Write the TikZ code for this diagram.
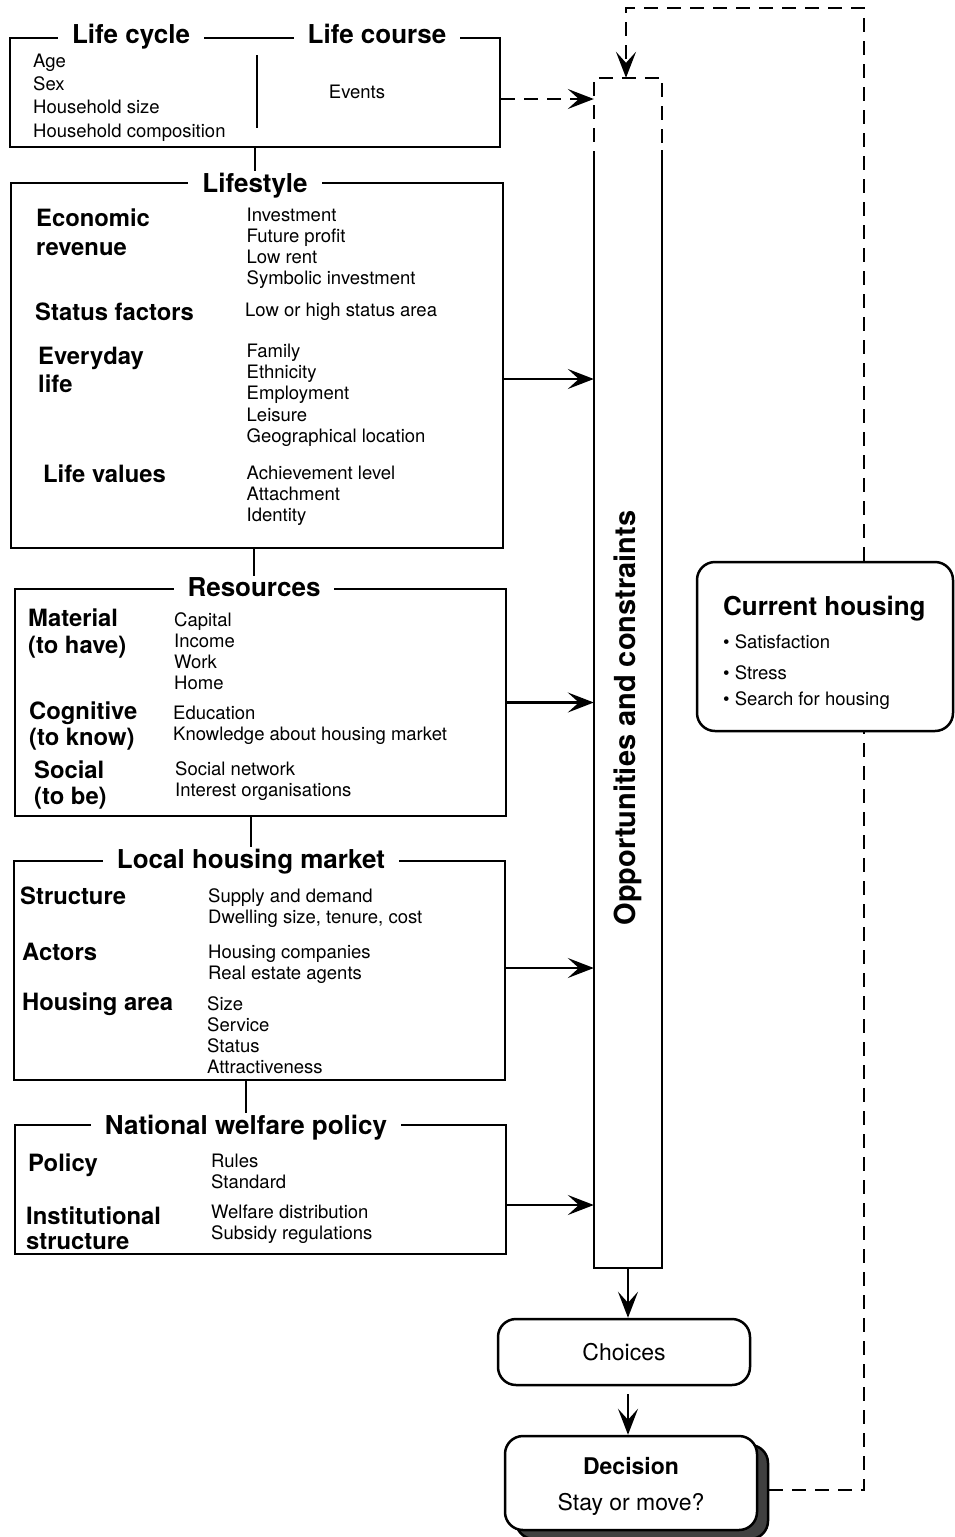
\documentclass[tikz,border=0pt]{standalone}
\usepackage{fontspec}
\setmainfont{TeX Gyre Heros}
\usepackage{tikz}
\usetikzlibrary{arrows.meta, positioning, calc}

\newcommand{\titlefont}{\fontsize{26}{30}\selectfont\bfseries}
\newcommand{\lblfont}{\fontsize{23.8}{28}\selectfont\bfseries}
\newcommand{\itmfont}{\fontsize{18.5}{21.5}\selectfont}
\newcommand{\boxtextfont}{\fontsize{23}{28}\selectfont}

\begin{document}
\begin{tikzpicture}[x=1pt, y=-1pt,
  box/.style={draw, line width=2.5pt, inner sep=0pt},
  rbox/.style={draw, line width=2.5pt, inner sep=0pt, rounded corners=18pt},
  title/.style={font=\titlefont, fill=white, inner xsep=14pt, inner ysep=1pt, anchor=base},
  lbl/.style={font=\lblfont, inner sep=0pt, anchor=base west},
  itm/.style={font=\itmfont, inner sep=0pt, anchor=base west},
  conn/.style={line width=2.5pt},
  arr/.style={-{Stealth[length=26pt, width=20pt, inset=11pt]}, line width=2.3pt},
  dashline/.style={line width=2.5pt, dash pattern=on 14pt off 9pt}]
\useasboundingbox (0,0) rectangle (954,1537);

% Life cycle / Life course
\node[box, minimum width=490pt, minimum height=109pt] (lifecycle) at (255,92.5) {};
\node[title] (lctitle) at (131,43) {Life cycle};
\node[title] (lcotitle) at (377,43) {Life course};
\draw[conn] (257,55) -- (257,128);
\foreach \t [count=\i from 0] in {Age, Sex, Household size, Household composition}
  \node[itm] (lc\i) at (33, 67+23.4*\i) {\t};
\node[itm, anchor=base] (events) at (357,98) {Events};

% Lifestyle
\node[box, minimum width=492pt, minimum height=365pt] (lifestyle) at (257,365.5) {};
\node[title] (lstitle) at (255,192) {Lifestyle};
\foreach \t/\x/\y [count=\i] in {Economic/36/226.5, revenue/36/255, Status factors/35/320.5, Everyday/38/364, life/38/392, Life values/43/482.5}
  \node[lbl] (lsl\i) at (\x,\y) {\t};
\foreach \t [count=\i from 0] in {Investment, Future profit, Low rent, Symbolic investment}
  \node[itm] (lsa\i) at (246.5, 221+21.3*\i) {\t};
\node[itm] (lsb0) at (245,316.5) {Low or high status area};
\foreach \t [count=\i from 0] in {Family, Ethnicity, Employment, Leisure, Geographical location}
  \node[itm] (lsc\i) at (246.5, 357.3+21.3*\i) {\t};
\foreach \t [count=\i from 0] in {Achievement level, Attachment, Identity}
  \node[itm] (lsd\i) at (246.5, 479.3+21.3*\i) {\t};

% Resources
\node[box, minimum width=491pt, minimum height=227pt] (resources) at (260.5,702.5) {};
\node[title] (restitle) at (254,596) {Resources};
\foreach \t/\x/\y [count=\i] in {Material/28/626.5, (to have)/28/653.5, Cognitive/29/719.5, (to know)/29/745.5, Social/34/778.5, (to be)/34/804.5}
  \node[lbl] (resl\i) at (\x,\y) {\t};
\foreach \t [count=\i from 0] in {Capital, Income, Work, Home}
  \node[itm] (resa\i) at (174, 626+21.3*\i) {\t};
\foreach \t [count=\i from 0] in {Education, Knowledge about housing market}
  \node[itm] (resb\i) at (173, 719+21.3*\i) {\t};
\foreach \t [count=\i from 0] in {Social network, Interest organisations}
  \node[itm] (resc\i) at (175, 775+21.3*\i) {\t};

% Local housing market
\node[box, minimum width=491pt, minimum height=219pt] (market) at (259.5,970.5) {};
\node[title] (mkttitle) at (251,868) {Local housing market};
\foreach \t/\x/\y [count=\i] in {Structure/20/904.5, Actors/22/960.5, Housing area/22/1010.5}
  \node[lbl] (mktl\i) at (\x,\y) {\t};
\foreach \t [count=\i from 0] in {Supply and demand, {Dwelling size, tenure, cost}}
  \node[itm] (mkta\i) at (208, 902+21.3*\i) {\t};
\foreach \t [count=\i from 0] in {Housing companies, Real estate agents}
  \node[itm] (mktb\i) at (208, 958+21.3*\i) {\t};
\foreach \t [count=\i from 0] in {Size, Service, Status, Attractiveness}
  \node[itm] (mktc\i) at (207, 1010+21.3*\i) {\t};

% National welfare policy
\node[box, minimum width=491pt, minimum height=129pt] (welfare) at (260.5,1189.5) {};
\node[title] (wftitle) at (246,1134) {National welfare policy};
\foreach \t/\x/\y [count=\i] in {Policy/28/1171.5, Institutional/26/1224.5, structure/26/1249}
  \node[lbl] (wfl\i) at (\x,\y) {\t};
\foreach \t [count=\i from 0] in {Rules, Standard}
  \node[itm] (wfa\i) at (211, 1167+21.3*\i) {\t};
\foreach \t [count=\i from 0] in {Welfare distribution, Subsidy regulations}
  \node[itm] (wfb\i) at (211, 1218+21.3*\i) {\t};

% Links between the boxes
\draw[conn] (lifecycle.south -| lstitle.north) -- (lstitle.north);
\draw[conn] (lifestyle.south -| restitle.north) -- (restitle.north);
\draw[conn] (resources.south -| mkttitle.north) -- (mkttitle.north);
\draw[conn] (market.south -| wftitle.north) -- (wftitle.north);

% Opportunities and constraints column
\node[minimum width=68pt, minimum height=1190pt, inner sep=0pt] (opp) at (628,673) {};
\draw[dashline] ($(opp.north west)+(0,87)$) -- (opp.north west) -- (opp.north east) -- ($(opp.north east)+(0,72)$);
\draw[conn] ($(opp.north west)+(0,87)$) -- (opp.south west) -- (opp.south east) -- ($(opp.north east)+(0,72)$);
\node[rotate=90, font=\fontsize{29}{32}\selectfont\bfseries, inner sep=0pt] (opptext) at (628,718) {Opportunities and constraints};

% Arrows into the column
\draw[dashline, arr] ([yshift=-6.5pt]lifecycle.east) -- ([yshift=-6.5pt]lifecycle.east -| opp.west);
\draw[arr] ([yshift=-13.5pt]lifestyle.east) -- ([yshift=-13.5pt]lifestyle.east -| opp.west);
\draw[arr] (resources.east) -- (resources.east -| opp.west);
\draw[arr] ([yshift=2.5pt]market.east) -- ([yshift=2.5pt]market.east -| opp.west);
\draw[arr] ([yshift=-15.5pt]welfare.east) -- ([yshift=-15.5pt]welfare.east -| opp.west);

% Current housing
\node[rbox, minimum width=256pt, minimum height=169pt] (curhouse) at (825,646.5) {};
\node[font=\titlefont, inner sep=0pt, anchor=base west] (chtitle) at (723,615) {Current housing};
\foreach \t/\y [count=\i] in {Satisfaction/648, Stress/679, Search for housing/705}
  \node[itm] (ch\i) at (723,\y) {\textbullet\ \t};

% Choices and decision
\node[rbox, minimum width=252pt, minimum height=66pt, font=\boxtextfont] (choices) at (624,1352) {Choices};
\node[rbox, minimum width=252pt, minimum height=94pt, fill=black!75] (decshadow) at (642,1492) {};
\node[rbox, minimum width=252pt, minimum height=94pt, fill=white] (decision) at (631,1483) {};
\node[font=\boxtextfont\bfseries, inner sep=0pt, anchor=base] (dectitle) at (631,1474) {Decision};
\node[font=\boxtextfont, inner sep=0pt, anchor=base] (decq) at (631,1510) {Stay or move?};
\draw[arr] (opp.south) -- (opp.south |- choices.north);
\draw[arr, shorten <=8pt] (choices.south -| opp.south) -- (decision.north -| opp.south);

% Feedback loop
\coordinate (loopbot) at (864,1490);
\coordinate (looptop) at (864,8);
\draw[dashline] (decshadow.east |- loopbot) -- (loopbot) -- (curhouse.south -| loopbot);
\draw[dashline, arr] (curhouse.north -| looptop) -- (looptop) -- (looptop -| 626,0) -- (626,0 |- opp.north);

\end{tikzpicture}
\end{document}
